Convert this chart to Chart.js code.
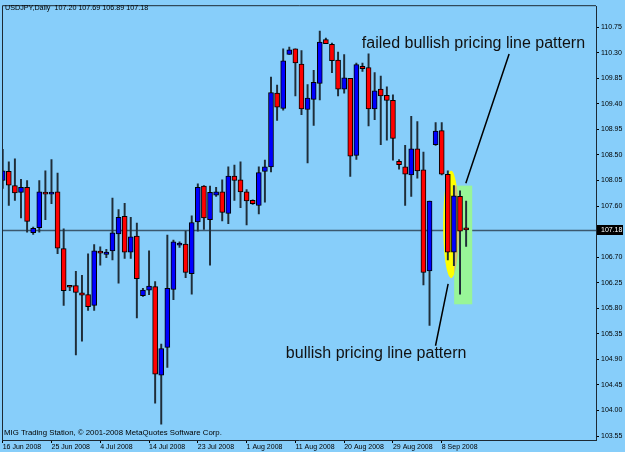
<!DOCTYPE html>
<html>
<head>
<meta charset="utf-8">
<script src="https://cdn.jsdelivr.net/npm/chart.js@4.4.1/dist/chart.umd.min.js"></script>
<style>
  body { margin: 0; background: #87cefa; }
  canvas { display: block; }
</style>
</head>
<body>
<canvas id="grafico" width="625" height="452"></canvas>
<script>
const canva = document.getElementById('grafico');

// velas diarias USDJPY
const fechas = [
  '16 Jun 2008','17 Jun 2008','18 Jun 2008','19 Jun 2008','20 Jun 2008','22 Jun 2008','23 Jun 2008','24 Jun 2008',
  '25 Jun 2008','26 Jun 2008','27 Jun 2008','29 Jun 2008','30 Jun 2008','1 Jul 2008','2 Jul 2008','3 Jul 2008',
  '4 Jul 2008','6 Jul 2008','7 Jul 2008','8 Jul 2008','9 Jul 2008','10 Jul 2008','11 Jul 2008','13 Jul 2008',
  '14 Jul 2008','15 Jul 2008','16 Jul 2008','17 Jul 2008','18 Jul 2008','20 Jul 2008','21 Jul 2008','22 Jul 2008',
  '23 Jul 2008','24 Jul 2008','25 Jul 2008','27 Jul 2008','28 Jul 2008','29 Jul 2008','30 Jul 2008','31 Jul 2008',
  '1 Aug 2008','3 Aug 2008','4 Aug 2008','5 Aug 2008','6 Aug 2008','7 Aug 2008','8 Aug 2008','10 Aug 2008',
  '11 Aug 2008','12 Aug 2008','13 Aug 2008','14 Aug 2008','15 Aug 2008','17 Aug 2008','18 Aug 2008','19 Aug 2008',
  '20 Aug 2008','21 Aug 2008','22 Aug 2008','24 Aug 2008','25 Aug 2008','26 Aug 2008','27 Aug 2008','28 Aug 2008',
  '29 Aug 2008','31 Aug 2008','1 Sep 2008','2 Sep 2008','3 Sep 2008','4 Sep 2008','5 Sep 2008','7 Sep 2008',
  '8 Sep 2008','9 Sep 2008','10 Sep 2008','11 Sep 2008','12 Sep 2008'
];
const apertura = [
  108.05,108.21,107.96,107.84,107.93,107.13,107.22,107.84,107.81,107.85,106.85,106.18,106.20,106.07,106.04,105.85,
  106.78,106.75,106.81,107.11,107.42,106.79,107.07,106.02,106.12,106.18,104.62,105.11,106.13,106.91,106.93,106.41,
  107.32,107.95,107.36,107.79,107.85,107.47,108.13,108.06,107.85,107.70,107.61,108.21,108.29,109.59,109.32,110.27,
  110.37,110.10,109.30,109.48,109.76,110.53,110.45,110.17,109.66,109.85,108.49,110.06,110.04,109.31,109.66,109.55,
  109.46,108.39,108.29,108.15,108.61,108.24,106.46,108.68,108.93,108.16,106.79,107.77,107.20
];
const maximo = [
  108.60,108.38,108.43,108.07,108.05,107.23,108.05,108.22,108.42,108.18,107.20,106.19,106.45,106.38,106.76,106.92,
  106.88,106.84,107.74,107.54,107.65,107.40,107.30,106.15,106.81,106.27,105.17,107.09,107.00,106.97,107.16,107.43,
  107.99,107.96,107.95,107.93,108.06,108.29,108.32,108.38,107.89,107.71,108.29,108.41,109.87,109.73,110.37,110.40,
  110.37,110.34,109.74,109.99,110.68,110.56,110.47,110.31,110.27,109.85,110.12,110.12,110.28,109.95,109.89,109.70,
  109.56,108.42,108.67,109.18,109.09,108.55,107.69,109.07,109.07,108.22,107.96,107.87,107.69
];
const minimo = [
  107.91,107.61,107.70,107.39,107.14,107.10,107.14,107.36,107.64,106.76,105.85,106.11,104.98,105.22,105.76,105.76,
  106.56,106.69,106.65,106.24,106.68,106.68,105.63,106.01,106.04,104.13,103.76,104.76,105.95,106.87,106.34,106.05,
  107.16,107.19,106.56,107.77,107.34,107.29,107.70,107.57,107.27,107.63,107.46,107.67,108.20,109.11,109.29,110.27,
  109.54,109.21,108.36,109.02,109.47,110.46,109.95,109.54,109.59,108.12,108.42,109.97,109.01,109.12,108.68,108.76,
  108.41,108.25,107.61,107.77,108.09,106.21,105.50,108.67,108.15,106.65,106.55,106.05,106.89
];
const cierre = [
  108.22,107.97,107.83,107.93,107.33,107.21,107.85,107.81,107.84,106.86,106.11,106.17,106.08,106.03,105.83,106.81,
  106.77,106.79,107.13,107.40,106.79,107.06,106.32,106.12,106.19,104.64,105.09,106.15,106.97,106.95,106.43,107.31,
  107.93,107.39,107.84,107.85,107.49,108.13,108.05,107.85,107.69,107.64,108.19,108.29,109.60,109.34,110.16,110.35,
  110.12,109.31,109.50,109.78,110.49,110.46,110.16,109.66,109.86,108.48,110.09,110.02,109.31,109.63,109.54,109.46,
  108.79,108.33,108.16,108.61,108.22,106.43,107.69,108.92,108.16,106.79,107.78,107.16,107.18
];
const ticksFecha = [0, 8, 16, 24, 32, 40, 48, 56, 64, 72];
const ticksPrecio = [103.55, 104.00, 104.45, 104.90, 105.35, 105.80, 106.25, 106.70, 107.15,
  107.60, 108.05, 108.50, 108.95, 109.40, 109.85, 110.30, 110.75];

const ultimo = cierre.length - 1;
const fuenteChica = '"Liberation Sans", Arial, sans-serif';

const fondo = {
  id: 'fondo',
  beforeDraw(chart) {
    const ctx = chart.ctx;
    ctx.save();
    ctx.fillStyle = '#87cefa';
    ctx.fillRect(0, 0, chart.width, chart.height);
    ctx.restore();
  }
};

// marcas dibujadas a mano sobre el grafico (en coordenadas de datos)
const dibujos = {
  id: 'dibujos',
  beforeDatasetsDraw(chart) {
    const { ctx, chartArea: ca, scales: { x, y } } = chart;
    ctx.save();
    // linea del precio actual
    const yp = Math.round(y.getPixelForValue(cierre[ultimo])) + 0.5;
    ctx.strokeStyle = '#3b586e';
    ctx.lineWidth = 1.3;
    ctx.beginPath();
    ctx.moveTo(ca.left, yp);
    ctx.lineTo(ca.right, yp);
    ctx.stroke();

    // elipse amarilla
    const ex = x.getPixelForValue(73.54), ey = y.getPixelForValue(107.275);
    const rx = x.getPixelForValue(74.85) - ex, ry = ey - y.getPixelForValue(108.22);
    ctx.fillStyle = '#ffff00';
    ctx.beginPath();
    ctx.ellipse(ex, ey, rx, ry, 0, 0, Math.PI * 2);
    ctx.fill();

    // rectangulo verde
    const r1 = x.getPixelForValue(74.04), r2 = x.getPixelForValue(77.0);
    const t1 = y.getPixelForValue(107.96), t2 = y.getPixelForValue(105.87);
    ctx.fillStyle = '#98f598';
    ctx.fillRect(r1, t1, r2 - r1, t2 - t1);
    ctx.beginPath();
    ctx.rect(r1, t1, r2 - r1, t2 - t1);
    ctx.clip();
    ctx.fillStyle = '#d8c070';
    ctx.beginPath();
    ctx.ellipse(ex, ey, rx, ry, 0, 0, Math.PI * 2);
    ctx.fill();
    ctx.restore();
  },
  afterDatasetsDraw(chart) {
    const { ctx, scales: { x, y } } = chart;
    ctx.save();
    ctx.strokeStyle = '#000';
    ctx.lineWidth = 1.5;
    ctx.beginPath();
    ctx.moveTo(x.getPixelForValue(83.05), y.getPixelForValue(110.28));
    ctx.lineTo(x.getPixelForValue(75.95), y.getPixelForValue(108.00));
    ctx.moveTo(x.getPixelForValue(73.05), y.getPixelForValue(106.23));
    ctx.lineTo(x.getPixelForValue(70.98), y.getPixelForValue(105.14));
    ctx.stroke();

    ctx.fillStyle = '#111';
    ctx.font = '16px "Liberation Sans", Arial, sans-serif';
    ctx.textBaseline = 'middle';
    ctx.fillText('failed bullish pricing line pattern', x.getPixelForValue(58.9), y.getPixelForValue(110.46));
    ctx.fillText('bullish pricing line pattern', x.getPixelForValue(46.44), y.getPixelForValue(105.0));
    ctx.restore();
  },
  afterDraw(chart) {
    const { ctx, chartArea: ca, scales: { y } } = chart;
    ctx.save();
    // marco izquierdo y superior
    ctx.strokeStyle = '#1d2a34';
    ctx.lineWidth = 1;
    ctx.beginPath();
    ctx.moveTo(ca.left + 0.5, ca.bottom);
    ctx.lineTo(ca.left + 0.5, ca.top - 0.5);
    ctx.lineTo(ca.right, ca.top - 0.5);
    ctx.stroke();

    // cabecera y pie
    ctx.fillStyle = '#000';
    ctx.textBaseline = 'middle';
    ctx.font = '7.2px ' + fuenteChica;
    const ohlc = [apertura, maximo, minimo, cierre].map(a => a[ultimo].toFixed(2)).join(' ');
    ctx.fillText('USDJPY,Daily  ' + ohlc, 5, 8);
    ctx.font = '7.8px ' + fuenteChica;
    ctx.fillText('MIG Trading Station, \u00a9 2001-2008 MetaQuotes Software Corp.', 4, 432.5);

    // etiqueta del precio actual
    ctx.font = '7px ' + fuenteChica;
    const yp = Math.round(y.getPixelForValue(cierre[ultimo]));
    ctx.fillStyle = '#000';
    ctx.fillRect(ca.right + 1, yp - 5, 26, 10);
    ctx.fillStyle = '#fff';
    ctx.fillText(cierre[ultimo].toFixed(2), ca.right + 5, yp + 0.5);
    ctx.restore();
  }
};

const colores = apertura.map((o, i) => cierre[i] >= o ? '#0000ff' : '#ff0000');

window.myChart = new Chart(canva, {
  type: 'bar',
  data: {
    datasets: [{
      label: 'cuerpo',
      data: fechas.map((f, i) => ({ x: i, y: [apertura[i], cierre[i]] })),
      backgroundColor: colores,
      borderColor: '#000',
      borderWidth: 1,
      borderSkipped: false,
      barThickness: 5,
      minBarLength: 2,
      grouped: false
    }, {
      label: 'mecha',
      data: fechas.map((f, i) => ({ x: i, y: [minimo[i], maximo[i]] })),
      backgroundColor: '#1f2d38',
      borderWidth: 0,
      barThickness: 1.3,
      grouped: false
    }]
  },
  options: {
    responsive: false,
    animation: false,
    layout: { padding: { left: 2, top: 2, right: 0, bottom: 0 }, autoPadding: false },
    plugins: { legend: { display: false }, tooltip: { enabled: false } },
    scales: {
      x: {
        type: 'linear',
        min: -0.115,
        max: 97.3,
        offset: false,
        afterBuildTicks: s => { s.ticks = ticksFecha.map(v => ({ value: v })); },
        afterFit: s => { s.height = 12; },
        grid: { drawOnChartArea: false, tickLength: 3, color: '#000', offset: false },
        border: { color: '#1d2a34', width: 1 },
        ticks: {
          autoSkip: false, maxRotation: 0, align: 'start', padding: 0, color: '#000',
          font: { size: 7, family: fuenteChica },
          callback: v => fechas[v]
        }
      },
      y: {
        position: 'right',
        min: 103.48,
        max: 111.12,
        afterBuildTicks: s => { s.ticks = ticksPrecio.map(v => ({ value: v })); },
        afterFit: s => { s.width = 29; },
        grid: { drawOnChartArea: false, tickLength: 3, color: '#000' },
        border: { color: '#1d2a34', width: 1 },
        ticks: {
          padding: 2, color: '#000',
          font: { size: 7, family: fuenteChica },
          callback: v => v.toFixed(2)
        }
      }
    }
  },
  plugins: [fondo, dibujos]
});
</script>
</body>
</html>
